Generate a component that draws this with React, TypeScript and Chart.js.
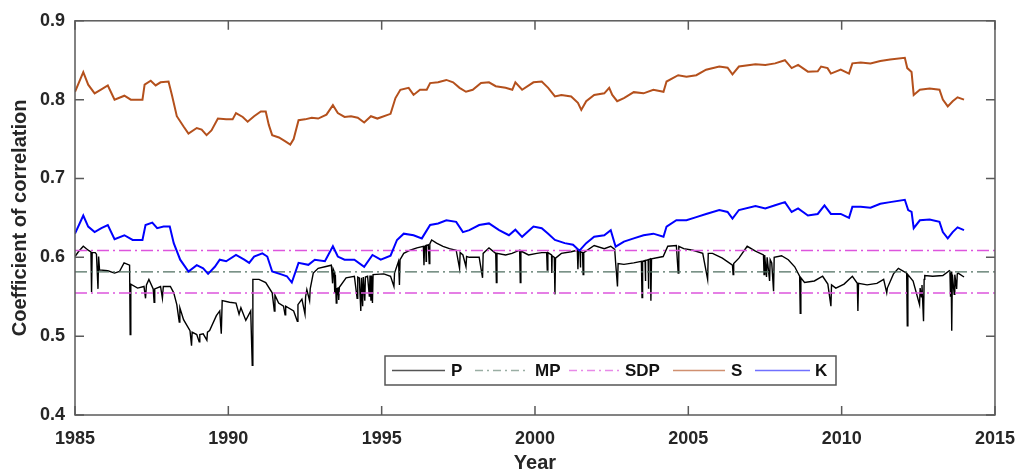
import React, { useEffect, useRef } from "react";
import { Chart, registerables } from "chart.js";

Chart.register(...registerables);

// ---------- data ----------
const xTicks = [1985, 1990, 1995, 2000, 2005, 2010, 2015];
const yTicks = [0.4, 0.5, 0.6, 0.7, 0.8, 0.9];
const legendLabels = ["P", "MP", "SDP", "S", "K"];

const mpValue = 0.5815;
const sdpUpper = 0.6085;
const sdpLower = 0.5548;
const lineSpan = [1985, 2015];

const sYears = [
  1985.0, 1985.27, 1985.43, 1985.64, 1985.86, 1986.07, 1986.29, 1986.61, 1986.82, 1987.2,
  1987.27, 1987.47, 1987.63, 1987.79, 1988.05, 1988.16, 1988.32, 1988.54, 1988.7, 1988.97,
  1989.13, 1989.29, 1989.45, 1989.66, 1989.93, 1990.14, 1990.25, 1990.47, 1990.63, 1990.84,
  1991.06, 1991.22, 1991.32, 1991.43, 1991.65, 1991.86, 1992.02, 1992.13, 1992.29, 1992.5,
  1992.72, 1992.93, 1993.2, 1993.41, 1993.57, 1993.79, 1994.0, 1994.22, 1994.43, 1994.65,
  1994.86, 1995.29, 1995.45, 1995.61, 1995.88, 1996.04, 1996.25, 1996.47, 1996.58, 1996.84,
  1997.11, 1997.33, 1997.54, 1997.75, 1997.97, 1998.24, 1998.5, 1998.72, 1999.04, 1999.26,
  1999.36, 1999.58, 1999.95, 2000.22, 2000.43, 2000.65, 2000.86, 2001.18, 2001.4, 2001.51,
  2001.67, 2001.93, 2002.26, 2002.42, 2002.52, 2002.68, 2002.9, 2003.22, 2003.54, 2003.86,
  2004.19, 2004.29, 2004.67, 2004.94, 2005.26, 2005.58, 2006.01, 2006.28, 2006.44, 2006.65,
  2007.19, 2007.51, 2007.83, 2008.15, 2008.37, 2008.58, 2008.9, 2009.22, 2009.33, 2009.54,
  2009.65, 2009.97, 2010.24, 2010.35, 2010.62, 2010.94, 2011.26, 2011.58, 2012.06, 2012.14,
  2012.28, 2012.35, 2012.55, 2012.87, 2013.19, 2013.3, 2013.46, 2013.62, 2013.78, 2013.99,
];
const sValues = [
  0.81, 0.835, 0.819, 0.808, 0.813, 0.818, 0.8, 0.805, 0.8, 0.8,
  0.819, 0.824, 0.818, 0.822, 0.823, 0.806, 0.779, 0.766, 0.757, 0.764,
  0.762, 0.755, 0.761, 0.776, 0.775, 0.775, 0.783, 0.778, 0.772, 0.779,
  0.785, 0.785, 0.768, 0.755, 0.752, 0.747, 0.743, 0.75, 0.774, 0.775,
  0.777, 0.776, 0.781, 0.793, 0.783, 0.778, 0.779, 0.777, 0.771, 0.779,
  0.776, 0.782, 0.802, 0.8125, 0.815, 0.806, 0.8125, 0.8125, 0.821, 0.822,
  0.825, 0.822, 0.815, 0.81, 0.8125, 0.821, 0.822, 0.817, 0.815, 0.8125,
  0.822, 0.8125, 0.822, 0.823, 0.815, 0.804, 0.806, 0.804, 0.796, 0.787,
  0.798, 0.806, 0.808, 0.815, 0.806, 0.798, 0.802, 0.8095, 0.808, 0.8125,
  0.81, 0.823, 0.831, 0.829, 0.831, 0.838, 0.842, 0.8405, 0.832, 0.842,
  0.845, 0.844, 0.846, 0.85, 0.84, 0.844, 0.8355, 0.836, 0.842, 0.84,
  0.833, 0.838, 0.833, 0.846, 0.847, 0.846, 0.849, 0.851, 0.853, 0.84,
  0.835, 0.806, 0.8125, 0.814, 0.8125, 0.8, 0.7915, 0.798, 0.803, 0.8,
];

const kYears = [
  1985.0, 1985.27, 1985.43, 1985.64, 1985.86, 1986.07, 1986.29, 1986.61, 1986.88, 1987.2,
  1987.3, 1987.52, 1987.68, 1987.89, 1988.09, 1988.22, 1988.43, 1988.7, 1988.97, 1989.18,
  1989.34, 1989.56, 1989.72, 1989.93, 1990.25, 1990.52, 1990.68, 1990.84, 1991.11, 1991.27,
  1991.43, 1991.75, 1991.91, 1992.07, 1992.29, 1992.61, 1992.82, 1993.15, 1993.41, 1993.57,
  1993.79, 1994.11, 1994.43, 1994.7, 1994.97, 1995.29, 1995.5, 1995.72, 1996.04, 1996.31,
  1996.58, 1996.84, 1997.11, 1997.43, 1997.65, 1997.86, 1998.18, 1998.5, 1998.83, 1999.15,
  1999.36, 1999.58, 1999.95, 2000.22, 2000.43, 2000.65, 2000.97, 2001.24, 2001.45, 2001.67,
  2001.93, 2002.26, 2002.47, 2002.63, 2002.9, 2003.22, 2003.54, 2003.86, 2004.19, 2004.29,
  2004.61, 2004.94, 2005.26, 2005.58, 2006.01, 2006.28, 2006.44, 2006.65, 2007.19, 2007.51,
  2007.83, 2008.15, 2008.37, 2008.58, 2008.9, 2009.22, 2009.44, 2009.65, 2009.97, 2010.24,
  2010.35, 2010.62, 2010.94, 2011.26, 2011.58, 2012.06, 2012.17, 2012.28, 2012.35, 2012.55,
  2012.87, 2013.19, 2013.3, 2013.46, 2013.62, 2013.78, 2013.99,
];
const kValues = [
  0.63, 0.653, 0.639, 0.632, 0.637, 0.641, 0.623, 0.628, 0.622, 0.622,
  0.641, 0.644, 0.637, 0.639, 0.639, 0.618, 0.597, 0.582, 0.59, 0.586,
  0.579, 0.588, 0.597, 0.595, 0.603, 0.597, 0.593, 0.601, 0.605, 0.601,
  0.582, 0.578, 0.576, 0.568, 0.593, 0.5905, 0.597, 0.595, 0.614, 0.601,
  0.597, 0.597, 0.588, 0.603, 0.597, 0.602, 0.622, 0.63, 0.628, 0.624,
  0.641, 0.643, 0.647, 0.645, 0.632, 0.6345, 0.641, 0.643, 0.6345, 0.628,
  0.635, 0.626, 0.639, 0.637, 0.63, 0.622, 0.618, 0.616, 0.6085, 0.618,
  0.626, 0.628, 0.6345, 0.6135, 0.62, 0.624, 0.628, 0.63, 0.626, 0.639,
  0.647, 0.647, 0.651, 0.655, 0.66, 0.6575, 0.649, 0.66, 0.665, 0.662,
  0.666, 0.67, 0.6575, 0.662, 0.653, 0.655, 0.666, 0.655, 0.655, 0.65,
  0.664, 0.664, 0.663, 0.668, 0.67, 0.673, 0.66, 0.6575, 0.637, 0.647,
  0.648, 0.645, 0.632, 0.624, 0.632, 0.638, 0.6345,
];

// P series as [year, value]; closely spaced triples are the sharp downward spikes
const pSeries: [number, number][] = [
  [1985.0, 0.601], [1985.11, 0.607], [1985.27, 0.614], [1985.43, 0.609], [1985.52, 0.607],
  [1985.54, 0.556], [1985.56, 0.606], [1985.66, 0.606], [1985.7, 0.604], [1985.75, 0.56],
  [1985.77, 0.601], [1985.8, 0.584], [1986.07, 0.583], [1986.29, 0.58], [1986.45, 0.582],
  [1986.6, 0.593], [1986.78, 0.59], [1986.8, 0.502], [1986.82, 0.566], [1987.04, 0.561],
  [1987.25, 0.563], [1987.3, 0.548], [1987.33, 0.565], [1987.41, 0.572], [1987.55, 0.56],
  [1987.58, 0.543], [1987.6, 0.56], [1987.79, 0.563], [1987.85, 0.548], [1987.88, 0.563],
  [1988.11, 0.563], [1988.22, 0.555], [1988.32, 0.54], [1988.4, 0.518], [1988.42, 0.536],
  [1988.54, 0.521], [1988.75, 0.507], [1988.8, 0.488], [1988.82, 0.505], [1988.97, 0.502],
  [1989.05, 0.493], [1989.07, 0.502], [1989.18, 0.503], [1989.3, 0.495], [1989.32, 0.505],
  [1989.39, 0.507], [1989.61, 0.526], [1989.72, 0.532], [1989.77, 0.503], [1989.8, 0.545],
  [1990.04, 0.543], [1990.25, 0.542], [1990.35, 0.528], [1990.41, 0.536], [1990.57, 0.52],
  [1990.73, 0.532], [1990.78, 0.463], [1990.8, 0.572], [1991.0, 0.572], [1991.22, 0.568],
  [1991.43, 0.555], [1991.5, 0.532], [1991.52, 0.552], [1991.64, 0.542], [1991.8, 0.538],
  [1991.85, 0.527], [1991.87, 0.538], [1992.13, 0.532], [1992.25, 0.519], [1992.27, 0.54],
  [1992.4, 0.547], [1992.5, 0.528], [1992.52, 0.55], [1992.56, 0.559], [1992.65, 0.545],
  [1992.67, 0.56], [1992.77, 0.58], [1992.93, 0.586], [1993.15, 0.588], [1993.36, 0.59],
  [1993.4, 0.567], [1993.42, 0.585], [1993.45, 0.582], [1993.47, 0.555], [1993.49, 0.578],
  [1993.52, 0.542], [1993.54, 0.561], [1993.57, 0.552], [1993.58, 0.562], [1993.6, 0.546],
  [1993.62, 0.562], [1993.84, 0.574], [1994.11, 0.576], [1994.2, 0.548], [1994.22, 0.575],
  [1994.27, 0.574], [1994.32, 0.532], [1994.34, 0.574], [1994.38, 0.538], [1994.4, 0.575],
  [1994.45, 0.545], [1994.47, 0.575], [1994.54, 0.576], [1994.6, 0.55], [1994.62, 0.577],
  [1994.65, 0.545], [1994.67, 0.577], [1994.7, 0.542], [1994.72, 0.578], [1995.07, 0.579],
  [1995.29, 0.576], [1995.4, 0.563], [1995.42, 0.58], [1995.55, 0.595], [1995.58, 0.565],
  [1995.6, 0.597], [1995.72, 0.605], [1995.93, 0.609], [1996.15, 0.612], [1996.36, 0.614],
  [1996.38, 0.59], [1996.4, 0.614], [1996.44, 0.615], [1996.45, 0.595], [1996.46, 0.615],
  [1996.52, 0.616], [1996.55, 0.592], [1996.57, 0.617], [1996.63, 0.622], [1996.79, 0.618],
  [1997.0, 0.614], [1997.21, 0.611], [1997.43, 0.609], [1997.54, 0.586], [1997.56, 0.606],
  [1997.65, 0.603], [1997.75, 0.588], [1997.77, 0.601], [1997.86, 0.6], [1998.18, 0.6],
  [1998.29, 0.574], [1998.31, 0.605], [1998.5, 0.612], [1998.72, 0.605], [1998.74, 0.568],
  [1998.76, 0.605], [1999.04, 0.603], [1999.25, 0.605], [1999.5, 0.609], [1999.52, 0.568],
  [1999.54, 0.608], [1999.79, 0.603], [2000.06, 0.605], [2000.22, 0.606], [2000.38, 0.606],
  [2000.4, 0.584], [2000.42, 0.606], [2000.54, 0.603], [2000.55, 0.58], [2000.56, 0.602],
  [2000.63, 0.6], [2000.65, 0.553], [2000.67, 0.599], [2000.86, 0.605], [2001.18, 0.607],
  [2001.38, 0.609], [2001.4, 0.585], [2001.42, 0.608], [2001.47, 0.607], [2001.48, 0.587],
  [2001.49, 0.607], [2001.55, 0.606], [2001.57, 0.578], [2001.59, 0.606], [2001.93, 0.615],
  [2002.26, 0.611], [2002.47, 0.614], [2002.6, 0.61], [2002.63, 0.593], [2002.69, 0.563],
  [2002.71, 0.592], [2002.9, 0.591], [2003.22, 0.593], [2003.47, 0.595], [2003.49, 0.549],
  [2003.51, 0.595], [2003.59, 0.596], [2003.6, 0.57], [2003.61, 0.596], [2003.69, 0.597],
  [2003.7, 0.56], [2003.71, 0.597], [2003.76, 0.598], [2003.78, 0.545], [2003.8, 0.598],
  [2004.18, 0.601], [2004.33, 0.614], [2004.61, 0.615], [2004.67, 0.58], [2004.69, 0.614],
  [2004.85, 0.611], [2005.15, 0.609], [2005.47, 0.605], [2005.63, 0.572], [2005.65, 0.605],
  [2005.79, 0.605], [2006.11, 0.599], [2006.44, 0.59], [2006.46, 0.578], [2006.48, 0.592],
  [2006.65, 0.599], [2006.92, 0.614], [2007.19, 0.608], [2007.45, 0.603], [2007.47, 0.578],
  [2007.49, 0.603], [2007.55, 0.575], [2007.57, 0.6], [2007.65, 0.57], [2007.67, 0.597],
  [2007.72, 0.593], [2007.78, 0.557], [2007.8, 0.6], [2008.04, 0.602], [2008.26, 0.597],
  [2008.47, 0.588], [2008.63, 0.576], [2008.65, 0.529], [2008.67, 0.574], [2008.79, 0.568],
  [2009.11, 0.57], [2009.38, 0.576], [2009.55, 0.566], [2009.65, 0.538], [2009.67, 0.565],
  [2009.81, 0.561], [2010.08, 0.566], [2010.35, 0.576], [2010.51, 0.567], [2010.53, 0.532],
  [2010.55, 0.567], [2010.83, 0.565], [2011.15, 0.567], [2011.37, 0.572], [2011.47, 0.555],
  [2011.49, 0.561], [2011.69, 0.579], [2011.85, 0.586], [2012.12, 0.58], [2012.14, 0.513],
  [2012.16, 0.578], [2012.33, 0.57], [2012.54, 0.54], [2012.56, 0.561], [2012.6, 0.55],
  [2012.62, 0.565], [2012.67, 0.519], [2012.69, 0.572], [2012.71, 0.577], [2012.97, 0.576],
  [2013.3, 0.577], [2013.51, 0.583], [2013.53, 0.582], [2013.55, 0.55], [2013.57, 0.582],
  [2013.59, 0.507], [2013.61, 0.578], [2013.67, 0.553], [2013.69, 0.578], [2013.75, 0.56],
  [2013.77, 0.579], [2013.8, 0.58], [2013.99, 0.575],
];

// ---------- styling ----------
const FONT = "'Liberation Sans', Arial, Helvetica, sans-serif";
const COLORS = {
  P: "#000000",
  MP: "#4f6f60",
  SDP: "#dd55dd",
  S: "#b4501c",
  K: "#0000ff",
};
const LEGEND_COLORS = ["#555555", "#9aaea4", "#e88ae8", "#d09070", "#7070ff"];
const DASH_DOT = [12, 4, 2, 4];

const pts = (xs: number[], ys: number[]) => xs.map((x, i) => ({ x, y: ys[i] }));
const flat = (v: number) => lineSpan.map((x) => ({ x, y: v }));

const framePlugin = {
  id: "frame",
  afterDatasetsDraw(chart: any) {
    const { ctx, chartArea: a, scales } = chart;
    ctx.save();
    ctx.strokeStyle = "#5a5a5a";
    ctx.lineWidth = 1.5;
    ctx.setLineDash([]);
    ctx.strokeRect(a.left, a.top, a.right - a.left, a.bottom - a.top);
    const tl = 9;
    ctx.beginPath();
    xTicks.forEach((v) => {
      const x = scales.x.getPixelForValue(v);
      ctx.moveTo(x, a.bottom);
      ctx.lineTo(x, a.bottom - tl);
      ctx.moveTo(x, a.top);
      ctx.lineTo(x, a.top + tl);
    });
    yTicks.forEach((v) => {
      const y = scales.y.getPixelForValue(v);
      ctx.moveTo(a.left, y);
      ctx.lineTo(a.left + tl, y);
      ctx.moveTo(a.right, y);
      ctx.lineTo(a.right - tl, y);
    });
    ctx.stroke();
    ctx.restore();
  },
  afterDraw(chart: any) {
    const { ctx } = chart;
    ctx.save();
    const bx = 385, by = 356, bw = 451, bh = 29;
    ctx.fillStyle = "#ffffff";
    ctx.fillRect(bx, by, bw, bh);
    ctx.strokeStyle = "#555555";
    ctx.lineWidth = 1.5;
    ctx.strokeRect(bx, by, bw, bh);
    const cy = by + bh / 2;
    const lines = [
      [392, 445, 451],
      [475, 528, 535],
      [569, 620, 625],
      [673, 725, 731],
      [755, 810, 815],
    ];
    ctx.font = `bold 17px ${FONT}`;
    ctx.textBaseline = "middle";
    ctx.textAlign = "left";
    legendLabels.forEach((label, i) => {
      const [x0, x1, tx] = lines[i];
      ctx.beginPath();
      ctx.strokeStyle = LEGEND_COLORS[i];
      ctx.lineWidth = 1.5;
      ctx.setLineDash(label === "MP" || label === "SDP" ? [8, 4, 2, 4] : []);
      ctx.moveTo(x0, cy);
      ctx.lineTo(x1, cy);
      ctx.stroke();
      ctx.setLineDash([]);
      ctx.fillStyle = "#111111";
      ctx.fillText(label, tx, cy + 1);
    });
    ctx.restore();
  },
};

const bgPlugin = {
  id: "bg",
  beforeDraw(chart: any) {
    const { ctx, width, height } = chart;
    ctx.save();
    ctx.fillStyle = "#ffffff";
    ctx.fillRect(0, 0, width, height);
    ctx.restore();
  },
};

export default function App() {
  const ref = useRef<HTMLCanvasElement | null>(null);

  useEffect(() => {
    if (!ref.current) return;
    const chart = new Chart(ref.current, {
      type: "line",
      data: {
        datasets: [
          {
            label: "K",
            data: pts(kYears, kValues),
            borderColor: COLORS.K,
            borderWidth: 2,
            pointRadius: 0,
            tension: 0,
            order: 0,
          },
          {
            label: "S",
            data: pts(sYears, sValues),
            borderColor: COLORS.S,
            borderWidth: 2,
            pointRadius: 0,
            tension: 0,
            order: 1,
          },
          {
            label: "SDP",
            data: flat(sdpUpper),
            borderColor: COLORS.SDP,
            borderWidth: 1.5,
            borderDash: DASH_DOT,
            pointRadius: 0,
            order: 2,
          },
          {
            label: "SDP ",
            data: flat(sdpLower),
            borderColor: COLORS.SDP,
            borderWidth: 1.5,
            borderDash: DASH_DOT,
            pointRadius: 0,
            order: 2,
          },
          {
            label: "MP",
            data: flat(mpValue),
            borderColor: COLORS.MP,
            borderWidth: 1.2,
            borderDash: DASH_DOT,
            pointRadius: 0,
            order: 3,
          },
          {
            label: "P",
            data: pSeries.map(([x, y]) => ({ x, y })),
            borderColor: COLORS.P,
            borderWidth: 1.4,
            pointRadius: 0,
            tension: 0,
            order: 4,
          },
        ],
      },
      options: {
        animation: false,
        responsive: false,
        devicePixelRatio: 1,
        layout: { padding: { top: 17, right: 20, bottom: 0, left: 0 } },
        plugins: {
          legend: { display: false },
          tooltip: { enabled: false },
        },
        scales: {
          x: {
            type: "linear",
            min: 1985,
            max: 2015,
            grid: { display: false, drawTicks: false },
            border: { display: false },
            afterBuildTicks: (s: any) => {
              s.ticks = xTicks.map((value) => ({ value }));
            },
            afterFit: (s: any) => {
              s.height = 57;
            },
            ticks: {
              autoSkip: false,
              maxRotation: 0,
              padding: 13,
              color: "#262626",
              font: { family: FONT, size: 18, weight: "bold" },
              callback: (v: any) => String(v),
            },
            title: {
              display: true,
              text: "Year",
              color: "#262626",
              font: { family: FONT, size: 20, weight: "bold", lineHeight: 1 },
              padding: { top: 0, bottom: -1 },
            },
          },
          y: {
            type: "linear",
            min: 0.4,
            max: 0.9,
            grid: { display: false, drawTicks: false },
            border: { display: false },
            afterBuildTicks: (s: any) => {
              s.ticks = yTicks.map((value) => ({ value }));
            },
            afterFit: (s: any) => {
              s.width = 75;
            },
            ticks: {
              padding: 10,
              color: "#262626",
              font: { family: FONT, size: 18, weight: "bold" },
              callback: (v: any) => Number(v).toFixed(1),
            },
            title: {
              display: true,
              text: "Coefficient of correlation",
              color: "#262626",
              font: { family: FONT, size: 20, weight: "bold", lineHeight: 1 },
              padding: { top: 10, bottom: 0 },
            },
          },
        },
      },
      plugins: [bgPlugin, framePlugin],
    });
    return () => chart.destroy();
  }, []);

  return (
    <div style={{ position: "absolute", left: 0, top: 0, width: 1028, height: 472 }}>
      <canvas ref={ref} width={1028} height={472} />
    </div>
  );
}
